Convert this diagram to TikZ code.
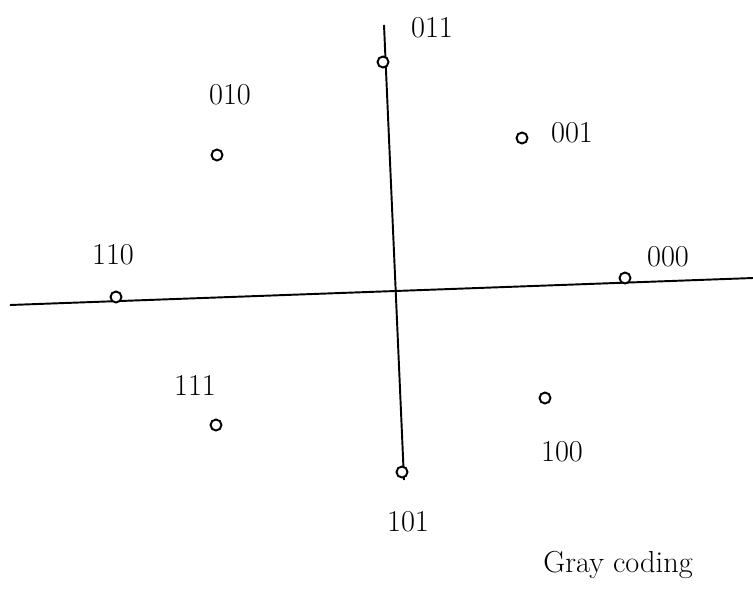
\documentclass[tikz,border=0pt]{standalone}
\usepackage{tikz}
\usetikzlibrary{positioning}

\begin{document}
\begin{tikzpicture}[x=0.02cm,y=-0.02cm,every node/.style={font=\LARGE}]
   \tikzstyle{pt}=[circle,draw,line width=1.1pt,inner sep=0pt,minimum size=2.2mm,fill=white];
   \tikzstyle{ax}=[draw,line width=1.1pt];
   \useasboundingbox (0,0) rectangle (753,609);
   % axes
   \coordinate (xl) at (10,305);
   \coordinate (xr) at (753,278);
   \coordinate (yt) at (384,25);
   \coordinate (yb) at (404,480);
   \draw[ax] (xl) -- (xr);
   \draw[ax] (yt) -- (yb);
   % constellation points
   \node[pt] (p011) at (383,62)  {};
   \node[pt] (p010) at (217,155) {};
   \node[pt] (p001) at (522,138) {};
   \node[pt] (p110) at (116,297) {};
   \node[pt] (p000) at (625,278) {};
   \node[pt] (p111) at (216,425) {};
   \node[pt] (p100) at (545,398) {};
   \node[pt] (p101) at (402,472) {};
   % labels
   \node (l011) at (432,28)  {011};
   \node (l010) at (230,95)  {010};
   \node (l001) at (572,133) {001};
   \node (l110) at (113,255) {110};
   \node (l000) at (668,257) {000};
   \node (l111) at (195,385) {111};
   \node (l100) at (562,452) {100};
   \node (l101) at (408,522) {101};
   \node (cap)  at (618,565) {Gray coding};
\end{tikzpicture}
\end{document}
